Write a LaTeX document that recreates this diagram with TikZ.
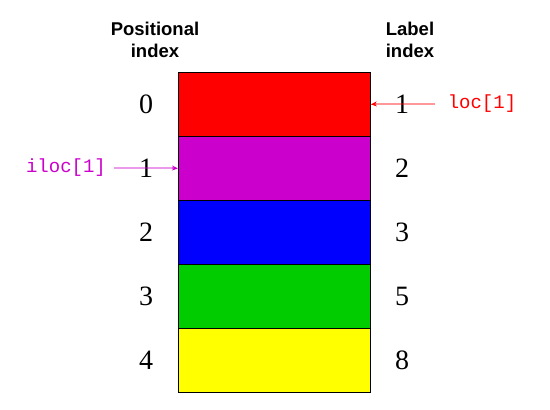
\documentclass[tikz,border=0pt]{standalone}
\usepackage{fontspec}
\setmainfont{Liberation Serif}
\setsansfont{Liberation Sans}
\setmonofont{Liberation Mono}
\usetikzlibrary{arrows.meta,calc}
\definecolor{cred}{HTML}{FF0000}
\definecolor{cmag}{HTML}{CC00CC}
\definecolor{cblue}{HTML}{0000FF}
\definecolor{cgreen}{HTML}{00CC00}
\definecolor{cyel}{HTML}{FFFF00}
\tikzset{
  cell/.style={draw=black, line width=0.8pt, minimum width=192pt, minimum height=64pt, inner sep=0pt, anchor=north west},
  num/.style={font=\fontsize{28}{28}\selectfont, inner sep=0pt},
  head/.style={font=\sffamily\bfseries\fontsize{18.5}{22}\selectfont, align=center, inner sep=0pt},
  code/.style={font=\ttfamily\fontsize{19}{19}\selectfont, inner sep=0pt},
  ptr/.style={line width=1.2pt, draw opacity=0.4},
  tip/.style={line width=1.2pt, -{Stealth[length=6pt,width=5pt]}},
}
\begin{document}
\begin{tikzpicture}[x=1pt,y=-1pt]
\useasboundingbox (0,0) rectangle (550,410);
\node[cell, fill=cred]   (r0) at (178,72)  {};
\node[cell, fill=cmag]   (r1) at (178,136) {};
\node[cell, fill=cblue]  (r2) at (178,200) {};
\node[cell, fill=cgreen] (r3) at (178,264) {};
\node[cell, fill=cyel]   (r4) at (178,328) {};
\node[head] (hp) at (155,40) {Positional\\index};
\node[head] (hl) at (410,40) {Label\\index};
\node[num] (p0) at (146,104) {0};
\node[num] (p1) at (146,168) {1};
\node[num] (p2) at (146,232) {2};
\node[num] (p3) at (146,296) {3};
\node[num] (p4) at (146,360) {4};
\node[num] (l0) at (402,104) {1};
\node[num] (l1) at (402,168) {2};
\node[num] (l2) at (402,232) {3};
\node[num] (l3) at (402,296) {5};
\node[num] (l4) at (402,360) {8};
\node[code, text=cmag] (iloc) at (66,168) {iloc[1]};
\node[code, text=cred] (loc) at (482,104) {loc[1]};
\coordinate (is) at (114,168);
\coordinate (ls) at (435,104);
\coordinate (it) at (172,168);
\coordinate (lt) at (376,104);
\draw[ptr, cmag] (is) -- (it);
\draw[tip, cmag] (it) -- (r1.west);
\draw[ptr, cred] (ls) -- (lt);
\draw[tip, cred] (lt) -- (r0.east);
\end{tikzpicture}
\end{document}
